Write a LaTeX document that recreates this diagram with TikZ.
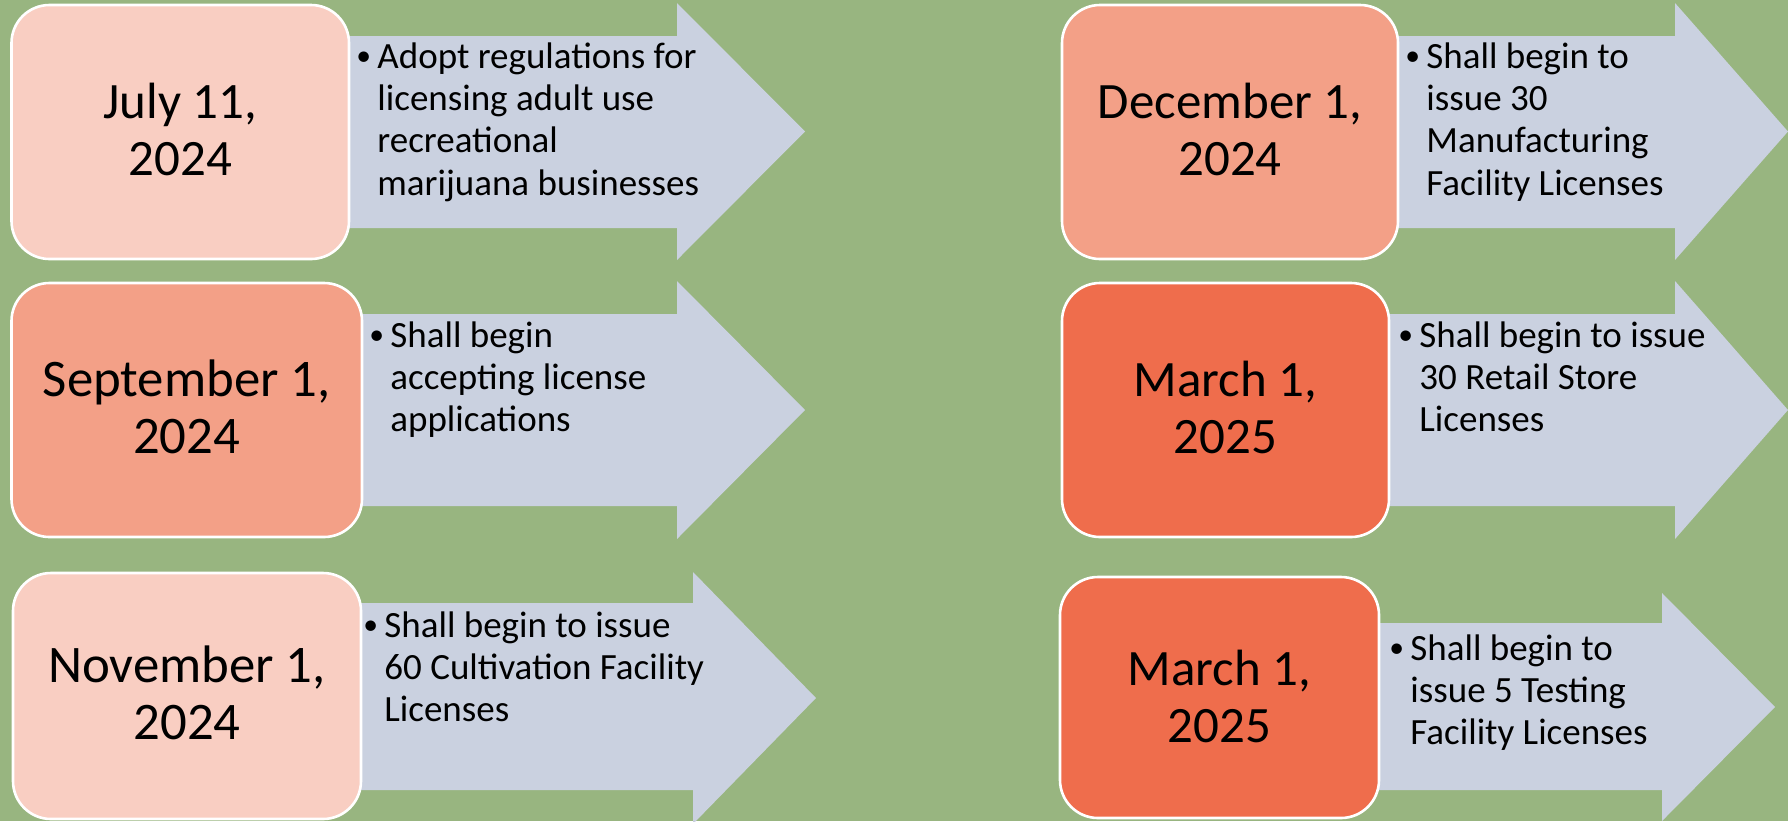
\documentclass[tikz,border=0pt]{standalone}
\usepackage{fontspec}
\setmainfont{Carlito}
\usepackage{xcolor}
\usepackage{tikz}
\definecolor{leafgreen}{HTML}{98B580}
\definecolor{palepink}{HTML}{F9CEC2}
\definecolor{salmon}{HTML}{F3A087}
\definecolor{coral}{HTML}{EF6D4C}
\definecolor{steelgrey}{HTML}{CAD1E0}
\newcommand{\pointtext}[1]{\makebox[10.5pt][l]{\raisebox{0.08em}{\scalebox{0.8}{\textbullet}}}\begin{tabular}[t]{@{}l@{}}#1\end{tabular}}

\begin{document}
\begin{tikzpicture}[line join=round,x=0.5pt,y=-0.5pt,
  datebox/.style={draw=white,line width=1.3pt,rounded corners=19pt},
  datetext/.style={align=center,inner sep=0pt,font=\fontsize{25.5}{28.5}\selectfont},
  bigdate/.style={font=\fontsize{26.4}{28.5}\selectfont},
  arrowbody/.style={fill=steelgrey},
  pointnode/.style={anchor=base west,inner sep=0pt,font=\fontsize{18.5}{21.2}\selectfont}]
\useasboundingbox (0,0) rectangle (1788,821);
\fill[leafgreen] (0,0) rectangle (1788,821);
% July
\fill[arrowbody] (180,36) -- (677,36) -- (677,3) -- (805,131.5) -- (677,260) -- (677,228) -- (180,228) -- cycle;
\draw[datebox,fill=palepink] (11.5,5) rectangle (349,259);
\node[datetext] (jul) at (180.25,129) {July 11,\\2024};
\node[pointnode] (julpt) at (356,68) {\pointtext{Adopt regulations for\\licensing adult use\\recreational\\marijuana businesses}};
% September
\fill[arrowbody] (180,314) -- (677,314) -- (677,281) -- (805,410) -- (677,539) -- (677,506) -- (180,506) -- cycle;
\draw[datebox,fill=salmon] (11.5,283) rectangle (362,537);
\node[datetext,bigdate] (sep) at (186.75,407) {September 1,\\2024};
\node[pointnode] (seppt) at (369,347) {\pointtext{Shall begin\\accepting license\\applications}};
% November
\fill[arrowbody] (180,603) -- (693,603) -- (693,572) -- (816,698) -- (693,824) -- (693,790) -- (180,790) -- cycle;
\draw[datebox,fill=palepink] (13,573) rectangle (361,819);
\node[datetext,bigdate] (nov) at (187,693) {November 1,\\2024};
\node[pointnode] (novpt) at (363,637) {\pointtext{Shall begin to issue\\60 Cultivation Facility\\Licenses}};
% December
\fill[arrowbody] (1230,36) -- (1675,36) -- (1675,3) -- (1788,131.5) -- (1675,260) -- (1675,228) -- (1230,228) -- cycle;
\draw[datebox,fill=salmon] (1062,5) rectangle (1398,259);
\node[datetext] (dec) at (1230,129) {December 1,\\2024};
\node[pointnode] (decpt) at (1405,68) {\pointtext{Shall begin to\\issue 30\\Manufacturing\\Facility Licenses}};
% March (retail)
\fill[arrowbody] (1225,314) -- (1675,314) -- (1675,281) -- (1788,410) -- (1675,539) -- (1675,506) -- (1225,506) -- cycle;
\draw[datebox,fill=coral] (1062,283) rectangle (1389,537);
\node[datetext] (mara) at (1225.5,407) {March 1,\\2025};
\node[pointnode] (marapt) at (1398,347) {\pointtext{Shall begin to issue\\30 Retail Store\\Licenses}};
% March (testing)
\fill[arrowbody] (1220,623) -- (1662,623) -- (1662,593) -- (1775,707) -- (1662,821) -- (1662,790) -- (1220,790) -- cycle;
\draw[datebox,fill=coral] (1060,577) rectangle (1379,818);
\node[datetext] (marb) at (1219.5,696) {March 1,\\2025};
\node[pointnode] (marbpt) at (1389,660) {\pointtext{Shall begin to\\issue 5 Testing\\Facility Licenses}};
\end{tikzpicture}
\end{document}
